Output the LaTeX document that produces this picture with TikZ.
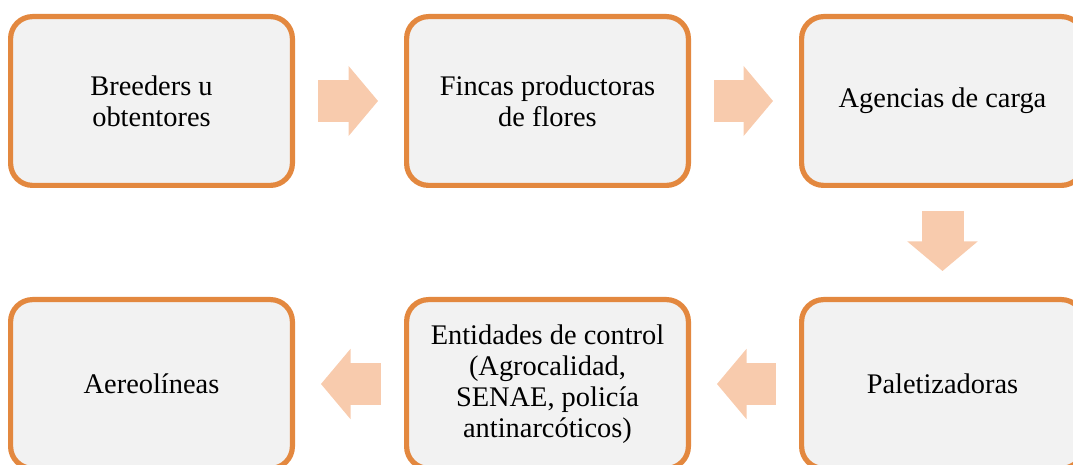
\documentclass[tikz,border=0pt]{standalone}
\usepackage{fontspec}
\setmainfont{Liberation Serif}
\usetikzlibrary{arrows.meta}
\definecolor{boxorange}{HTML}{E3883F}
\definecolor{boxgray}{HTML}{F2F2F2}
\definecolor{arrowpeach}{HTML}{F8CBAD}
\tikzset{>={Triangle[length=14.75pt, width=35pt, line width=0.8pt]}}
\tikzset{%
  stage/.style={draw=boxorange, fill=boxgray, line width=2.6pt, rounded corners=11pt,
    minimum width=140.9pt, minimum height=84.4pt, align=center,
    font=\fontsize{14.2}{15.4}\selectfont},
  flow/.style={->, draw=arrowpeach, line width=21pt, shorten <=11.5pt, shorten >=13pt}
}

\begin{document}
\begin{tikzpicture}[x=0.5pt, y=-0.5pt]

  % picture frame, the right column and the lower row run past it
  \useasboundingbox (0,0) rectangle (1073,465);
  \clip (0,0) rectangle (1073,465);

  % upper row of boxes
  \node[stage] (breed) at (151.5,101) {Breeders u\\obtentores};
  \node[stage] (finca) at (547.5,101) {Fincas productoras\\de flores};
  \node[stage] (agenc) at (942.5,101) {Agencias de carga};

  % lower row of boxes
  \node[stage] (palet) at (942.5,384) {Paletizadoras};
  \node[stage] (entid) at (547.5,384) {Entidades de control\\(Agrocalidad,\\SENAE, policía\\antinarcóticos)};
  \node[stage] (aero) at (151.5,384) {Aereolíneas};

  % block arrows between the boxes
  \draw[flow] (breed) -- (finca);
  \draw[flow] (finca) -- (agenc);
  \draw[flow] (agenc) -- (palet);
  \draw[flow] (palet) -- (entid);
  \draw[flow] (entid) -- (aero);

\end{tikzpicture}
\end{document}
